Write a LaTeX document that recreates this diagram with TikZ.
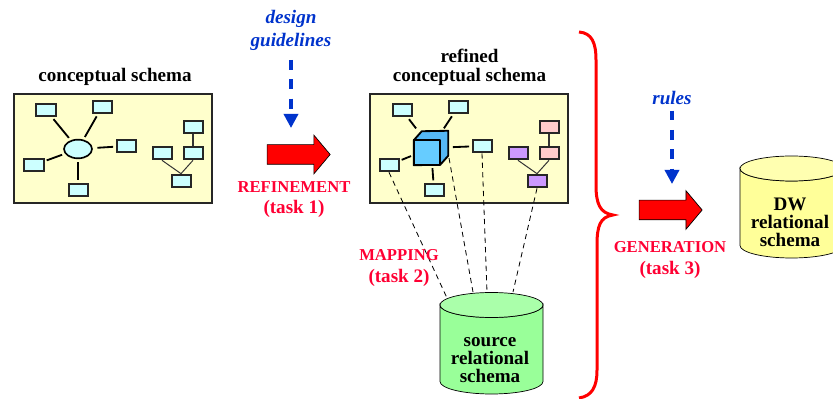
\documentclass[tikz,border=0pt]{standalone}
\usepackage{fontspec}
\setmainfont{Liberation Serif}
\usetikzlibrary{arrows.meta,shapes.geometric,shapes.arrows}

\definecolor{frameyellow}{HTML}{FFFFCC}
\definecolor{boxcyan}{HTML}{CCFFFF}
\definecolor{cubeblue}{HTML}{66CCFF}
\definecolor{cubetop}{HTML}{55B8F5}
\definecolor{boxpurple}{HTML}{CC99FF}
\definecolor{boxpink}{HTML}{FFCCCC}
\definecolor{labelred}{HTML}{FF0033}
\definecolor{hintblue}{HTML}{0033CC}
\definecolor{sourcebody}{HTML}{99FF99}
\definecolor{sourcetop}{HTML}{AAFFAA}
\definecolor{targetbody}{HTML}{FFFF99}
\definecolor{targettop}{HTML}{FFFFB0}

\begin{document}
\begin{tikzpicture}[x=0.03cm,y=-0.03cm]
		% Define styles for the frames, small boxes and labels
		\tikzset{
			schemaframe/.style={draw=black!85, fill=frameyellow, line width=0.06cm, minimum width=5.94cm, minimum height=3.27cm, inner sep=0pt},
			smallbox/.style={draw=black!85, fill=boxcyan, line width=0.06cm, minimum width=0.57cm, minimum height=0.38cm, inner sep=0pt},
			hubnode/.style={draw=black, fill=boxcyan, ellipse, line width=0.05cm, minimum width=0.84cm, minimum height=0.56cm, inner sep=0pt},
			link/.style={black, line width=0.055cm, shorten <=2.5pt, shorten >=2pt},
			thinlink/.style={black!80, line width=0.03cm},
			maplink/.style={black, line width=0.7pt, dash pattern=on 4.5pt off 3.5pt},
			dbbody/.style={draw=black, line width=0.6pt},
			title/.style={font=\fontsize{16.3}{16}\selectfont\bfseries, align=center, text=black},
			dbtitle/.style={font=\fontsize{16.3}{15.4}\selectfont\bfseries, align=center, text=black},
			tasklabel/.style={font=\fontsize{16.3}{18}\selectfont\bfseries, align=center, text=labelred},
			hint/.style={font=\fontsize{16.3}{19.6}\selectfont\bfseries\itshape, align=center, text=hintblue},
			hintarrow/.style={hintblue, line width=0.1cm, dash pattern=on 8.5pt off 8pt, -{Triangle[length=0.42cm,width=0.42cm]}},
			bigarrow/.style={draw=black, fill=red, single arrow, line width=0.6pt, inner sep=0.285cm, minimum height=1.89cm, single arrow head extend=0.285cm, single arrow tip angle=100, outer sep=0pt},
		}
		\useasboundingbox (0,0) rectangle (833,399);

		% Draw the first frame with its title
		\node (concept) at (113,148.5) [schemaframe] {};
		\node (concepttitle) at (115,77) [title] {conceptual schema};

		% Draw the boxes of the first frame
		\node (hub) at (78,149) [hubnode] {};
		\node (ca) at (46,110) [smallbox] {};
		\node (cb) at (102,107) [smallbox] {};
		\node (cc) at (126,146) [smallbox] {};
		\node (cd) at (34,165) [smallbox] {};
		\node (ce) at (78,190) [smallbox] {};
		\node (cf) at (193,127) [smallbox] {};
		\node (cg) at (193,153) [smallbox] {};
		\node (ch) at (162,153) [smallbox] {};
		\node (ci) at (181,181) [smallbox] {};

		% Draw the links of the first frame
		\draw[link] (hub) -- (ca);
		\draw[link] (hub) -- (cb);
		\draw[link,shorten <=4pt] (hub) -- (cc);
		\draw[link] (hub) -- (cd);
		\draw[link] (hub) -- (ce);
		\draw[thinlink,line width=0.05cm] (cf) -- (cg);
		\draw[thinlink] (ch.south) -- (ci.north);
		\draw[thinlink] (cg.south) -- (ci.north);

		% Draw the second frame with its title
		\node (refined) at (469,148.5) [schemaframe] {};
		\node (refinedtitle) at (469.5,67) [title] {refined\\conceptual schema};

		% Draw the boxes of the second frame
		\node (cube) at (431,148) [minimum width=1.02cm, minimum height=1.02cm, inner sep=0pt] {};
		\node (ra) at (402,110) [smallbox] {};
		\node (rb) at (458,107) [smallbox] {};
		\node (rc) at (482,146) [smallbox] {};
		\node (rd) at (389,165) [smallbox] {};
		\node (re) at (434,190) [smallbox] {};
		\node (rf) at (549,127) [smallbox,fill=boxpink] {};
		\node (rg) at (549,153) [smallbox,fill=boxpink] {};
		\node (rh) at (518,153) [smallbox,fill=boxpurple] {};
		\node (ri) at (537,181) [smallbox,fill=boxpurple] {};

		% Draw the links of the second frame
		\draw[link] (cube) -- (ra);
		\draw[link] (cube) -- (rb);
		\draw[link,shorten <=4pt] (cube) -- (rc);
		\draw[link] (cube) -- (rd);
		\draw[link] (cube) -- (re);
		\draw[thinlink,line width=0.05cm] (rf) -- (rg);
		\draw[thinlink] (rh.south) -- (ri.north);
		\draw[thinlink] (rg.south) -- (ri.north);

		% Draw the cube over the ends of its links
		\draw[black, line join=round, line width=0.055cm, fill=cubetop] (cube.south west) -- ++(0,-25) -- ++(8,-9) -- (cube.north east) -- ++(0,25) -- ++(-8,9) -- cycle;
		\draw[black, line join=round, line width=0.055cm, fill=cubeblue] (cube.south west) rectangle ++(26,-25);

		% Draw the mapping lines
		\coordinate (srca) at (447,298);
		\coordinate (srcb) at (473,292);
		\coordinate (srcc) at (487,292);
		\coordinate (srcd) at (513,292);
		\coordinate (cubeedge) at (449,158);
		\draw[maplink] (rd.south) -- (srca);
		\draw[maplink] (cubeedge) -- (srcb);
		\draw[maplink] (rc.south) -- (srcc);
		\draw[maplink] (ri.south) -- (srcd);

		% Draw the source database
		\draw[dbbody, fill=sourcebody] (440,305) -- (440,381.5) arc[start angle=180, end angle=0, x radius=51.5, y radius=12.5] -- (543,305) arc[start angle=0, end angle=180, x radius=51.5, y radius=12.5] -- cycle;
		\draw[dbbody, fill=sourcetop] (491.5,305) ellipse [x radius=51.5, y radius=12.5];
		\node (sourcetext) at (490,360) [dbtitle] {source\\relational\\schema};

		% Draw the target database
		\draw[dbbody, fill=targetbody] (740,168.5) -- (740,245.5) arc[start angle=180, end angle=0, x radius=51.5, y radius=12.5] -- (843,168.5) arc[start angle=0, end angle=180, x radius=51.5, y radius=12.5] -- cycle;
		\draw[dbbody, fill=targettop] (791.5,168.5) ellipse [x radius=51.5, y radius=12.5];
		\node (targettext) at (790,222) [dbtitle] {DW\\relational\\schema};

		% Draw the two big arrows
		\node (refinearrow) at (294.5,154.5) [bigarrow] {};
		\node (genarrow) at (666.5,210) [bigarrow] {};

		% Draw the hints with their dashed arrows
		\node (design) at (291,30) [hint] {design\\guidelines};
		\coordinate (designend) at (291,128);
		\draw[hintarrow,shorten <=0.17cm] (design) -- (designend);
		\node (rules) at (672,98) [hint] {rules};
		\coordinate (rulesend) at (672,184);
		\draw[hintarrow,shorten <=0.05cm] (rules) -- (rulesend);

		% Add labels
		\node (refinelabel) at (294,199.5) [tasklabel] {{\fontsize{14.2}{18}\selectfont REFINEMENT}\\(task 1)};
		\node (maplabel) at (399,268) [tasklabel] {{\fontsize{14.2}{18}\selectfont MAPPING}\\(task 2)};
		\node (genlabel) at (670,260) [tasklabel] {{\fontsize{14.2}{18}\selectfont GENERATION}\\(task 3)};

		% Draw the red brace
		\draw[red, line width=0.09cm] (579,32) .. controls (592,33) and (596,43) .. (596,60) -- (596,185) .. controls (596,204) and (600,213) .. (613,215) .. controls (600,217) and (597,226) .. (597,245) -- (597,370) .. controls (597,387) and (592,396) .. (579,398);
	\end{tikzpicture}
\end{document}
